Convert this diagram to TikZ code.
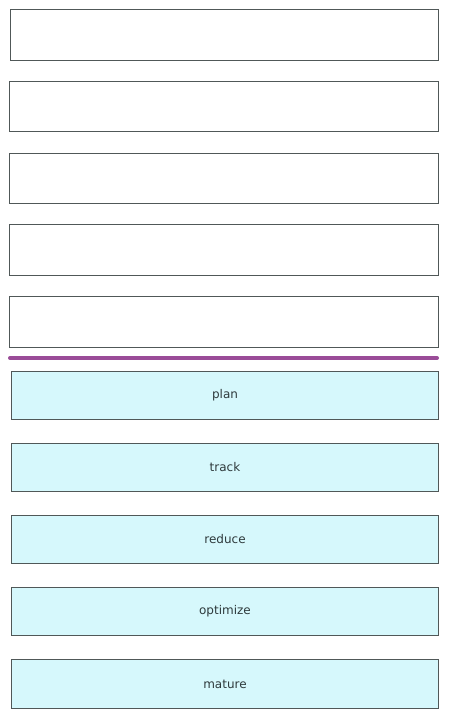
\documentclass[tikz,border=0pt]{standalone}
\usepackage{fontspec}
\setmainfont{DejaVu Sans}
\definecolor{boxline}{HTML}{505858}
\definecolor{cyanfill}{HTML}{D6F8FC}
\definecolor{purpleline}{HTML}{9A4C98}
\definecolor{txt}{HTML}{2E3A3C}
\begin{document}
\begin{tikzpicture}[x=1pt,y=-1pt,
  emptybox/.style={draw=boxline,line width=1pt,fill=white},
  termbox/.style={draw=boxline,line width=1pt,fill=cyanfill,minimum width=427pt,minimum height=48pt,anchor=north west,inner sep=0pt},
  termlabel/.style={font=\fontsize{12}{14}\selectfont,text=txt}]
\useasboundingbox (0,0) rectangle (450,720);
\fill[white] (0,0) rectangle (450,720);
\draw[emptybox] (10,9) rectangle (438,60);
\draw[emptybox] (9,81) rectangle (438,131);
\draw[emptybox] (9,153) rectangle (438,203);
\draw[emptybox] (9,224) rectangle (438,275);
\draw[emptybox] (9,296) rectangle (438,347);
\coordinate (pl) at (10,358);
\coordinate (pr) at (437,358);
\draw[purpleline,line width=4pt,line cap=round] (pl) -- (pr);
\node[termbox,termlabel] (plan) at (11,371) {plan};
\node[termbox,termlabel] (track) at (11,443) {track};
\node[termbox,termlabel] (reduce) at (11,515) {reduce};
\node[termbox,termlabel] (optimize) at (11,587) {optimize};
\node[termbox,termlabel,minimum height=49pt] (mature) at (11,659) {mature};
\end{tikzpicture}
\end{document}
